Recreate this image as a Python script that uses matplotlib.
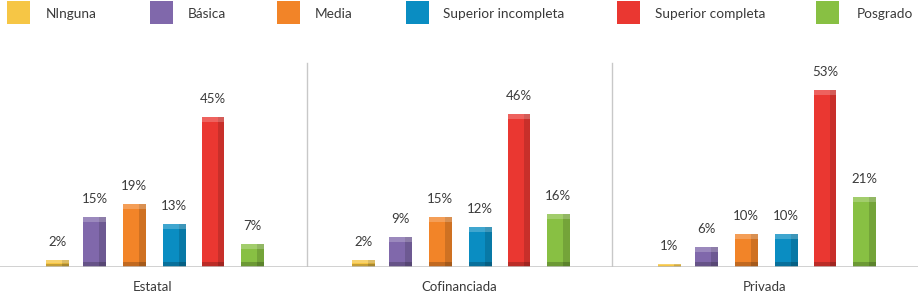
import matplotlib.pyplot as plt
from matplotlib.patches import Rectangle

plt.rcParams['font.family'] = ['Lato', 'DejaVu Sans']

groups = ['Estatal', 'Cofinanciada', 'Privada']
levels = ['NInguna', 'Básica', 'Media', 'Superior incompleta',
          'Superior completa', 'Posgrado']
colors = ['#f6c645', '#8068ab', '#f28428', '#0a8dc2', '#ea3731', '#88c043']
values = {
    'Estatal':      [2, 15, 19, 13, 45, 7],
    'Cofinanciada': [2, 9, 15, 12, 46, 16],
    'Privada':      [1, 6, 10, 10, 53, 21],
}

offsets = [-0.312, -0.190, -0.061, 0.069, 0.196, 0.324]
bar_w = 0.075
text_c = '#3a3a3a'

fig = plt.figure(figsize=(9.18, 2.95), dpi=100)
ax = fig.add_axes([0, 0.0949, 1, 0.77])
ax.axis('off')

for gi, g in enumerate(groups):
    for li, v in enumerate(values[g]):
        x = gi + 0.5 + offsets[li]
        ax.bar(x, v, width=bar_w, color=colors[li], lw=0, zorder=2)
        # bevel: darker right side, lighter top, darker bottom
        ax.bar(x + bar_w * 0.35, v, width=bar_w * 0.3, color='black',
               alpha=0.14, lw=0, zorder=3)
        band = min(1.5, v * 0.4)
        ax.bar(x, band, bottom=v - band, width=bar_w, color='white',
               alpha=0.22, lw=0, zorder=4)
        ax.bar(x, band, width=bar_w, color='black', alpha=0.2, lw=0, zorder=4)
        ax.annotate(f'{v}%', (x, v), xytext=(0, 13), textcoords='offset points',
                    ha='center', va='center', fontsize=9.5, color=text_c)
    ax.annotate(g, (gi + 0.5, 0), xytext=(0, -14.5), textcoords='offset points',
                ha='center', va='center', fontsize=9.5, color=text_c,
                annotation_clip=False)

ax.axhline(0, color='#c4c4c4', lw=1.8, zorder=5)
for sx in [1.003, 2.0]:
    ax.plot([sx, sx], [0, 61.3], color='#c8c8c8', lw=1, zorder=1)

ax.set_xlim(0, 3)
ax.set_ylim(0, 68.2)

# legend
leg_sq = [7, 150, 277, 406, 617, 816]
leg_tx = [46, 188, 315, 443, 655, 857]
for li, lab in enumerate(levels):
    xs = leg_sq[li] / 918
    fig.patches.append(Rectangle((xs, 1 - 24 / 295), 23 / 918, 23 / 295,
                                 transform=fig.transFigure,
                                 color=colors[li], lw=0))
    fig.text(leg_tx[li] / 918, 1 - 14.5 / 295, lab, ha='left', va='center',
             fontsize=9.8, color=text_c)

fig.savefig('out.png', dpi=100)
